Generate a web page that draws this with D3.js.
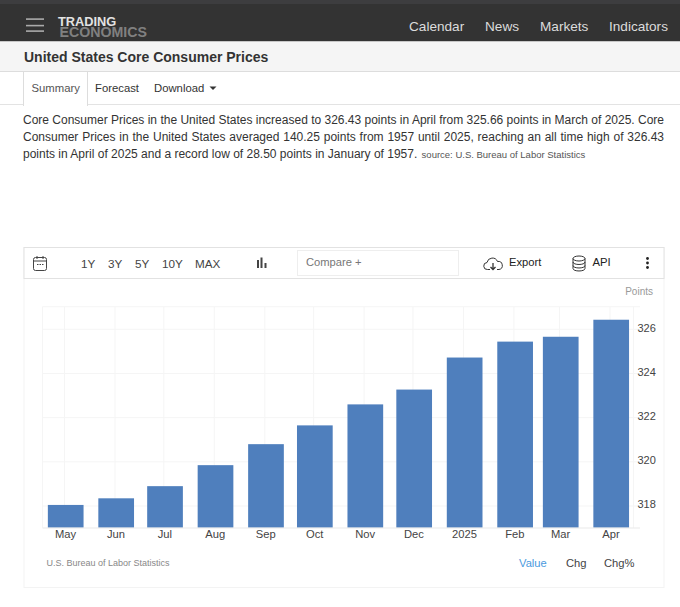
<!DOCTYPE html>
<html>
<head>
<meta charset="utf-8">
<script src="https://cdn.jsdelivr.net/npm/d3@7"></script>
<style>
html, body { margin: 0; padding: 0; background: #fff; overflow: hidden; }
body { width: 680px; height: 607px; position: relative; font-family: "Liberation Sans", Arial, sans-serif; }
#intro { position: absolute; left: 23px; top: 112px; width: 641px; font-size: 12px; line-height: 17px; color: #333; }
#intro div { text-align: justify; text-align-last: justify; white-space: nowrap; }
#intro div.last { text-align-last: left; }
#intro small { font-size: 9.5px; color: #555; margin-left: 1px; }
svg { position: absolute; left: 0; top: 0; }
</style>
</head>
<body>
<svg id="page" width="680" height="607"></svg>
<div id="intro">
<div>Core Consumer Prices in the United States increased to 326.43 points in April from 325.66 points in March of 2025. Core</div>
<div>Consumer Prices in the United States averaged 140.25 points from 1957 until 2025, reaching an all time high of 326.43</div>
<div class="last">points in April of 2025 and a record low of 28.50 points in January of 1957. <small>source: U.S. Bureau of Labor Statistics</small></div>
</div>
<script>
var months = ["2024-05-01","2024-06-01","2024-07-01","2024-08-01","2024-09-01","2024-10-01","2024-11-01","2024-12-01","2025-01-01","2025-02-01","2025-03-01","2025-04-01"];
var monthLabels = ["May","Jun","Jul","Aug","Sep","Oct","Nov","Dec","2025","Feb","Mar","Apr"];
var values = [318.05,318.35,318.9,319.85,320.8,321.65,322.6,323.27,324.72,325.44,325.66,326.43];
var yTicks = [318,320,322,324,326];
var navItems = ["Calendar","News","Markets","Indicators"];
var navX = [409,485,540,609];
var rangeButtons = ["1Y","3Y","5Y","10Y","MAX"];
var rangeX = [81,108,135,162,195];
var modes = ["Value","Chg","Chg%"];
var modeX = [519,566,604];

var svg = d3.select("#page");
var parseDate = d3.utcParse("%Y-%m-%d");
var dates = months.map(parseDate);

function label(x, y, txt, size, color, weight) {
    return svg.append("text").attr("x", x).attr("y", y).text(txt)
        .attr("font-size", size).attr("fill", color)
        .attr("font-weight", weight || "normal");
}
function hline(x1, x2, y, color) {
    svg.append("line").attr("x1", x1).attr("x2", x2).attr("y1", y).attr("y2", y).attr("stroke", color);
}

// top bar
svg.append("rect").attr("width", 680).attr("height", 4).attr("fill", "#3d3d3f");
svg.append("rect").attr("y", 4).attr("width", 680).attr("height", 37.5).attr("fill", "#333333");
[19, 25.5, 31].forEach(function(y) {
    svg.append("rect").attr("x", 26).attr("y", y - 0.7).attr("width", 18).attr("height", 1.6).attr("fill", "#aaaaaa");
});
label(58, 25.5, "TRADING", 12.8, "#e3e3e3", "bold");
label(59.5, 36.5, "ECONOMICS", 14.2, "#808080", "bold");
navItems.forEach(function(d, i) { label(navX[i], 31.2, d, 13.6, "#dcdcdc"); });

// title band
svg.append("rect").attr("y", 41.5).attr("width", 680).attr("height", 30).attr("fill", "#f5f5f5");
hline(0, 680, 71.5, "#dddddd");
label(24, 62, "United States Core Consumer Prices", 14, "#333", "bold");

// tabs
hline(0, 680, 104.5, "#e3e3e3");
svg.append("rect").attr("x", 23.5).attr("y", 71.5).attr("width", 64).attr("height", 34).attr("fill", "#fff").attr("stroke", "#dddddd");
svg.append("rect").attr("x", 24).attr("y", 103).attr("width", 63).attr("height", 3).attr("fill", "#fff");
label(31.5, 92, "Summary", 11.3, "#555");
label(95, 92, "Forecast", 11.3, "#333");
label(154, 92, "Download", 11.3, "#333");
svg.append("path").attr("d", "M209.5 86.5h7l-3.5 3.5z").attr("fill", "#333");

// chart frame + toolbar
svg.append("rect").attr("x", 24).attr("y", 247.5).attr("width", 640).attr("height", 340).attr("fill", "#fff").attr("stroke", "#f3f3f3");
svg.append("rect").attr("x", 24).attr("y", 247.5).attr("width", 640).attr("height", 31).attr("fill", "#fff").attr("stroke", "#e2e2e2");

// calendar icon
var cal = svg.append("g").attr("fill", "none").attr("stroke", "#444").attr("stroke-width", 1);
cal.append("rect").attr("x", 33.5).attr("y", 257.5).attr("width", 13).attr("height", 13).attr("rx", 2);
cal.append("path").attr("d", "M33.5 261h13M37 256v3M43 256v3M37 264.5h1.5M39.5 264.5h1.5M42 264.5h1.5");

rangeButtons.forEach(function(d, i) { label(rangeX[i], 268, d, 11.7, "#444"); });

// bar chart icon
svg.append("path").attr("fill", "#444").attr("d", "M257 260h2v8h-2zM260.5 257.5h2v10.500h-2zM264.5 263h2v5h-2z");

svg.append("rect").attr("x", 297.5).attr("y", 250.5).attr("width", 161).attr("height", 25).attr("fill", "#fff").attr("stroke", "#eeeeee");
label(306, 266, "Compare +", 11.2, "#777");

// export cloud
var cloud = svg.append("g").attr("fill", "none").attr("stroke", "#333");
cloud.append("path").attr("d", "M490 269.500h-2.500a3.500 3.500 0 0 1 -0.500 -7a5.500 5.500 0 0 1 10.500 -1a4 4 0 0 1 1.500 8h-2");
cloud.append("path").attr("d", "M493 263v6M490.500 267l2.500 2.500l2.500 -2.500").attr("stroke-width", 1.3);
label(509, 266, "Export", 11.2, "#222");

// api database
var db = svg.append("g").attr("fill", "none").attr("stroke", "#333");
db.append("ellipse").attr("cx", 579).attr("cy", 258.5).attr("rx", 6).attr("ry", 2.5);
db.append("path").attr("d", "M573 258.500v10c0 3.300 12 3.300 12 0v-10M573 262c0 3.300 12 3.300 12 0M573 265.500c0 3.300 12 3.300 12 0");
label(592.5, 266, "API", 11.3, "#222");

// kebab menu
[258.5, 263, 267.5].forEach(function(y) {
    svg.append("circle").attr("cx", 647.5).attr("cy", y).attr("r", 1.4).attr("fill", "#222");
});

label(653, 295, "Points", 10, "#999").attr("text-anchor", "end");

// scales
var x = d3.scaleUtc().domain([dates[0], dates[dates.length - 1]]).range([64.5, 610]);
var y = d3.scaleLinear().domain([317.02, 327.02]).range([527.7, 306.7]);
var barW = 35.7;

// grid
var grid = svg.append("g").attr("stroke", "#f5f5f5");
yTicks.forEach(function(t) {
    grid.append("line").attr("x1", 42.5).attr("x2", 640).attr("y1", y(t)).attr("y2", y(t));
});
dates.forEach(function(d) {
    grid.append("line").attr("x1", x(d)).attr("x2", x(d)).attr("y1", 306.7).attr("y2", 527.7);
});
grid.append("line").attr("x1", 42.5).attr("x2", 640).attr("y1", 306.7).attr("y2", 306.7);
grid.append("line").attr("x1", 42.5).attr("x2", 42.5).attr("y1", 306.7).attr("y2", 527.7);
grid.append("line").attr("x1", 633.5).attr("x2", 633.5).attr("y1", 306.7).attr("y2", 527.7);

// bars
svg.selectAll(".bar").data(values).enter().append("rect")
    .attr("class", "bar")
    .attr("x", function(d, i) { return x(dates[i]) + 1.2 - barW / 2; })
    .attr("width", barW)
    .attr("y", function(d) { return y(d); })
    .attr("height", function(d) { return y.range()[0] - y(d); })
    .attr("fill", "#4f7fbd");
hline(42.5, 640, 528, "#e9e9e9");

// axes
var xAxis = d3.axisBottom(x).tickValues(dates).tickSize(0).tickPadding(0)
    .tickFormat(function(d, i) { return monthLabels[i]; });
svg.append("g").attr("transform", "translate(0,535)").call(xAxis)
    .call(function(g) { g.select(".domain").remove(); })
    .selectAll("text").attr("font-family", "Liberation Sans").attr("font-size", 11.2).attr("fill", "#444").attr("dy", "0.3em").attr("dx", "0.5");

var yAxis = d3.axisRight(y).tickValues(yTicks).tickSize(0).tickPadding(0).tickFormat(d3.format("d"));
svg.append("g").attr("transform", "translate(637.5,-1.7)").call(yAxis)
    .call(function(g) { g.select(".domain").remove(); })
    .selectAll("text").attr("font-family", "Liberation Sans").attr("font-size", 11).attr("fill", "#444");

// footer
label(46.5, 566, "U.S. Bureau of Labor Statistics", 9, "#888");
modes.forEach(function(d, i) {
    label(modeX[i], 567, d, 11.2, i == 0 ? "#4a9ade" : "#444");
});
</script>
</body>
</html>
